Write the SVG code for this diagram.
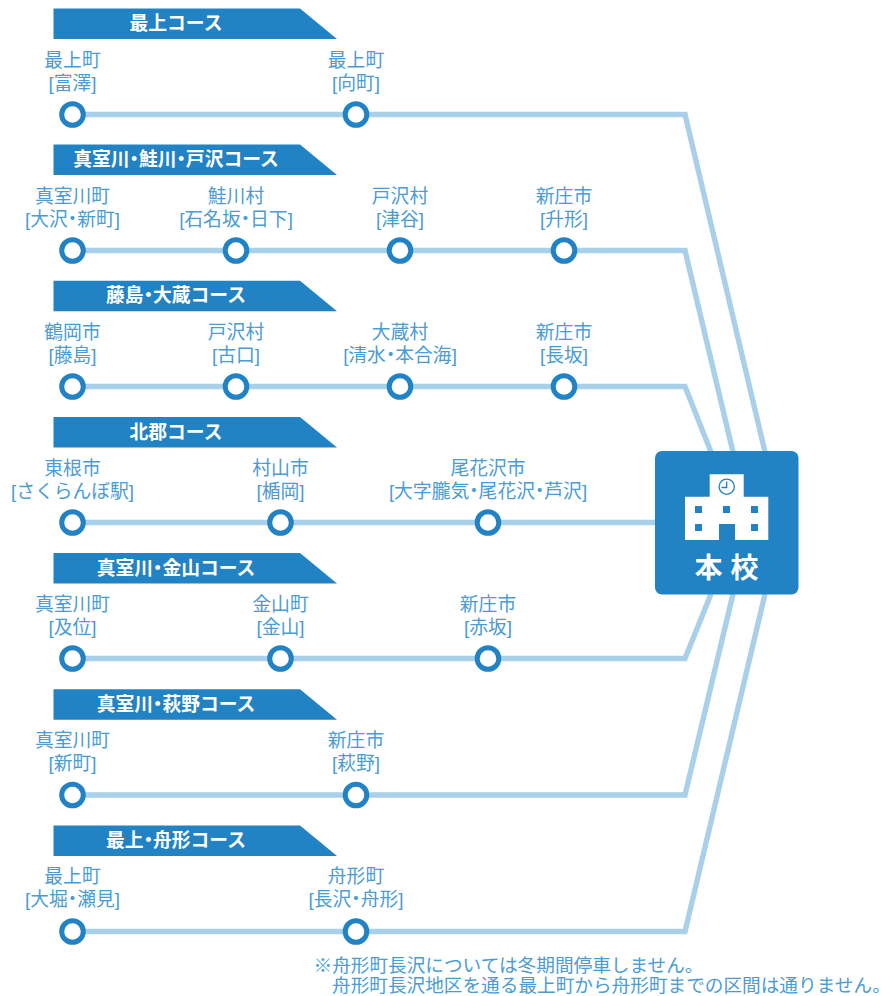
<svg xmlns="http://www.w3.org/2000/svg" width="882" height="996" viewBox="0 0 882 996">
<style>
text{font-family:"Liberation Sans","Noto Sans CJK JP",sans-serif}
.l{font-size:18.8px;fill:#4a9cd5;text-anchor:middle}
.t{font-size:18.8px;font-weight:700;fill:#fff;text-anchor:middle}
.d{font-feature-settings:"palt"}
.b{fill:#2183c4}
.s{fill:none;stroke:#a9cfe9;stroke-width:5.4}
.c{fill:#fff;stroke:#2183c4;stroke-width:5}
.n{font-size:18.65px;fill:#4a9cd5}
</style>
<defs>
<polygon id="banner" class="b" points="53.5,8.5 300,8.5 337,39 53.5,39"/>
<circle id="stop" class="c" r="10.8"/>
</defs>
<rect width="882" height="996" fill="#fff"/>
<g id="connectors">
<polyline class="s" points="72.5,114.5 685,114.5 765,452"/>
<polyline class="s" points="72.5,250.5 685,250.5 733,452"/>
<polyline class="s" points="72.5,386.5 685,386.5 711,452"/>
<polyline class="s" points="72.5,522.5 656,522.5"/>
<polyline class="s" points="72.5,658.5 685,658.5 711,594"/>
<polyline class="s" points="72.5,795 685,795 733,594"/>
<polyline class="s" points="72.5,931.5 685,931.5 765,594"/>
</g>
<g id="course1"><use href="#banner"/><text class="t" x="176" y="30">最上コース</text></g>
<g id="course2"><use href="#banner" y="136"/><text class="t" x="176" y="166">真室川<tspan class="d">・</tspan>鮭川<tspan class="d">・</tspan>戸沢コース</text></g>
<g id="course3"><use href="#banner" y="272.3"/><text class="t" x="176" y="302">藤島<tspan class="d">・</tspan>大蔵コース</text></g>
<g id="course4"><use href="#banner" y="408.5"/><text class="t" x="176" y="438.5">北郡コース</text></g>
<g id="course5"><use href="#banner" y="544.6"/><text class="t" x="176" y="574.5">真室川<tspan class="d">・</tspan>金山コース</text></g>
<g id="course6"><use href="#banner" y="680.8"/><text class="t" x="176" y="710.5">真室川<tspan class="d">・</tspan>萩野コース</text></g>
<g id="course7"><use href="#banner" y="817"/><text class="t" x="176" y="846.5">最上<tspan class="d">・</tspan>舟形コース</text></g>

<g id="s1a"><use href="#stop" x="72.5" y="114.5"/><text class="l" x="72.5" y="66.5">最上町</text><text class="l" x="72.5" y="90">[富澤]</text></g>
<g id="s1b"><use href="#stop" x="356" y="114.5"/><text class="l" x="356" y="66.5">最上町</text><text class="l" x="356" y="90">[向町]</text></g>

<g id="s2a"><use href="#stop" x="72.5" y="250.5"/><text class="l" x="72.5" y="202.5">真室川町</text><text class="l" x="72.5" y="226">[大沢<tspan class="d">・</tspan>新町]</text></g>
<g id="s2b"><use href="#stop" x="236" y="250.5"/><text class="l" x="236" y="202.5">鮭川村</text><text class="l" x="236" y="226">[石名坂<tspan class="d">・</tspan>日下]</text></g>
<g id="s2c"><use href="#stop" x="400" y="250.5"/><text class="l" x="400" y="202.5">戸沢村</text><text class="l" x="400" y="226">[津谷]</text></g>
<g id="s2d"><use href="#stop" x="564" y="250.5"/><text class="l" x="564" y="202.5">新庄市</text><text class="l" x="564" y="226">[升形]</text></g>

<g id="s3a"><use href="#stop" x="72.5" y="386.5"/><text class="l" x="72.5" y="338.5">鶴岡市</text><text class="l" x="72.5" y="362">[藤島]</text></g>
<g id="s3b"><use href="#stop" x="236" y="386.5"/><text class="l" x="236" y="338.5">戸沢村</text><text class="l" x="236" y="362">[古口]</text></g>
<g id="s3c"><use href="#stop" x="400" y="386.5"/><text class="l" x="400" y="338.5">大蔵村</text><text class="l" x="400" y="362">[清水<tspan class="d">・</tspan>本合海]</text></g>
<g id="s3d"><use href="#stop" x="564" y="386.5"/><text class="l" x="564" y="338.5">新庄市</text><text class="l" x="564" y="362">[長坂]</text></g>

<g id="s4a"><use href="#stop" x="72.5" y="522.5"/><text class="l" x="72.5" y="474.5">東根市</text><text class="l" x="72.5" y="498">[さくらんぼ駅]</text></g>
<g id="s4b"><use href="#stop" x="280.5" y="522.5"/><text class="l" x="280.5" y="474.5">村山市</text><text class="l" x="280.5" y="498">[楯岡]</text></g>
<g id="s4c"><use href="#stop" x="488" y="522.5"/><text class="l" x="488" y="474.5">尾花沢市</text><text class="l" x="488" y="498">[大字朧気<tspan class="d">・</tspan>尾花沢<tspan class="d">・</tspan>芦沢]</text></g>

<g id="s5a"><use href="#stop" x="72.5" y="658.5"/><text class="l" x="72.5" y="610.5">真室川町</text><text class="l" x="72.5" y="634">[及位]</text></g>
<g id="s5b"><use href="#stop" x="280.5" y="658.5"/><text class="l" x="280.5" y="610.5">金山町</text><text class="l" x="280.5" y="634">[金山]</text></g>
<g id="s5c"><use href="#stop" x="488" y="658.5"/><text class="l" x="488" y="610.5">新庄市</text><text class="l" x="488" y="634">[赤坂]</text></g>

<g id="s6a"><use href="#stop" x="72.5" y="795"/><text class="l" x="72.5" y="746.5">真室川町</text><text class="l" x="72.5" y="770">[新町]</text></g>
<g id="s6b"><use href="#stop" x="356" y="795"/><text class="l" x="356" y="746.5">新庄市</text><text class="l" x="356" y="770">[萩野]</text></g>

<g id="s7a"><use href="#stop" x="72.5" y="931.5"/><text class="l" x="72.5" y="882.5">最上町</text><text class="l" x="72.5" y="906">[大堀<tspan class="d">・</tspan>瀬見]</text></g>
<g id="s7b"><use href="#stop" x="356" y="931.5"/><text class="l" x="356" y="882.5">舟形町</text><text class="l" x="356" y="906">[長沢<tspan class="d">・</tspan>舟形]</text></g>

<g id="school">
<rect class="b" x="655" y="451" width="143.5" height="143.5" rx="7"/>
<path fill="#fff" d="M709.7 474.3H743.7V496.7H768.3V540H735V524H719V540H685V496.7H709.7Z"/>
<g class="b">
<rect x="695" y="506" width="7" height="7"/><rect x="723" y="506" width="7" height="7"/><rect x="751" y="506" width="7" height="7"/>
<rect x="695" y="524" width="7" height="7"/><rect x="751" y="524" width="7" height="7"/>
</g>
<circle cx="726.7" cy="486.7" r="7.6" fill="none" stroke="#2183c4" stroke-width="1.3"/>
<path d="M726.7 481.5V487.5H721.5" fill="none" stroke="#2183c4" stroke-width="1.3"/>
<text x="726.5" y="578" font-size="28" font-weight="700" fill="#fff" text-anchor="middle" xml:space="preserve">本 校</text>
</g>
<g id="note">
<text class="n" x="313.5" y="971.5">※舟形町長沢については冬期間停車しません。</text>
<text class="n" x="332" y="992">舟形町長沢地区を通る最上町から舟形町までの区間は通りません<tspan class="d">。</tspan></text>
</g>
</svg>
